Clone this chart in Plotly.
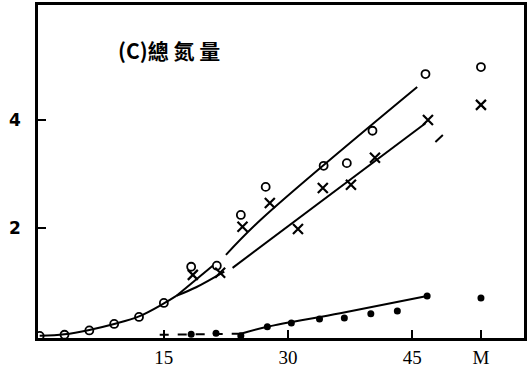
import plotly.graph_objects as go

# ---- data ----
M_POS = 53.3  # x position of the "M" category on the day axis

# open circles
o_days = [0, 3, 6, 9, 12, 15, 18.3, 21.4, 24.3, 27.3, 34.3, 37.1, 40.2, 46.6, M_POS]
o_vals = [0.0, 0.02, 0.10, 0.22, 0.35, 0.61, 1.28, 1.30, 2.24, 2.76, 3.15, 3.20, 3.80, 4.85, 4.98]

# crosses
x_days = [18.5, 21.8, 24.5, 27.8, 31.2, 34.2, 37.6, 40.5, 46.9, M_POS]
x_vals = [1.13, 1.17, 2.02, 2.46, 1.98, 2.74, 2.80, 3.30, 4.00, 4.28]

# filled dots
f_days = [18.3, 21.3, 24.3, 27.5, 30.4, 33.8, 36.8, 40.0, 43.2, 46.8, M_POS]
f_vals = [0.03, 0.05, 0.0, 0.17, 0.24, 0.31, 0.33, 0.41, 0.46, 0.74, 0.70]

# fitted curves
common_days = [0, 3, 6, 9, 12, 15, 16.5]
common_vals = [0.0, 0.03, 0.11, 0.22, 0.36, 0.60, 0.74]

upA_days = [16.5, 20.9]
upA_vals = [0.74, 1.30]
upB_days = [22.5, 26.7, 45.6]
upB_vals = [1.50, 2.15, 4.61]

loA_days = [16.5, 18.9, 22.3]
loA_vals = [0.74, 0.90, 1.19]
loB_days = [23.3, 46.6]
loB_vals = [1.26, 3.94]
loC_days = [47.8, 48.7]
loC_vals = [3.59, 3.72]

fd_days = [14.5, 24.3]
fd_vals = [0.02, 0.04]
fs_days = [24.3, 27.5, 36.3, 46.8]
fs_vals = [0.04, 0.17, 0.42, 0.74]

x_tick_vals = [15, 30, 45, M_POS]
x_tick_text = ["15", "30", "45", "M"]
y_tick_vals = [2, 4]
y_tick_text = ["2", "4"]

title_text = "(C)總 氮 量"

# ---- figure ----
fig = go.Figure()

def line(xs, ys, dash="solid", shape="spline", width=2):
    fig.add_trace(go.Scatter(x=xs, y=ys, mode="lines",
                             line=dict(color="black", width=width, dash=dash, shape=shape),
                             hoverinfo="skip", showlegend=False))

line(common_days, common_vals)
line(upA_days, upA_vals, shape="linear")
line(upB_days, upB_vals)
line(loA_days, loA_vals)
line(loB_days, loB_vals, shape="linear")
line(loC_days, loC_vals, shape="linear")
line(fd_days, fd_vals, dash="dash", shape="linear")
line(fs_days, fs_vals)

fig.add_trace(go.Scatter(x=o_days, y=o_vals, mode="markers",
                         marker=dict(symbol="circle-open", size=8, color="black",
                                     line=dict(width=1.8, color="black")),
                         showlegend=False))
fig.add_trace(go.Scatter(x=x_days, y=x_vals, mode="markers",
                         marker=dict(symbol="x-thin-open", size=10, color="black",
                                     line=dict(width=2.2, color="black")),
                         showlegend=False))
fig.add_trace(go.Scatter(x=f_days, y=f_vals, mode="markers",
                         marker=dict(symbol="circle", size=7, color="black"),
                         showlegend=False))

fig.add_annotation(text=title_text, xref="paper", yref="paper",
                   x=0.27, y=0.865, xanchor="center", yanchor="middle", showarrow=False,
                   font=dict(family="Noto Sans CJK TC", size=21, color="black", weight="bold"))

fig.update_xaxes(range=[-0.2, 58.5], tickvals=x_tick_vals, ticktext=x_tick_text,
                 ticks="inside", ticklen=8, tickwidth=1.5, tickcolor="black",
                 showline=True, linewidth=2.5, linecolor="black", mirror=True,
                 showgrid=False, zeroline=False, automargin=False,
                 tickfont=dict(family="Liberation Serif", size=19, color="black"))
fig.update_yaxes(range=[-0.04, 6.13], tickvals=y_tick_vals, ticktext=y_tick_text,
                 ticks="inside", ticklen=8, tickwidth=1.5, tickcolor="black",
                 showline=True, linewidth=2.5, linecolor="black", mirror=True,
                 showgrid=False, zeroline=False, ticklabelstandoff=11, automargin=False,
                 tickfont=dict(family="DejaVu Sans", size=17, color="black", weight="bold"))

fig.update_layout(width=529, height=376, margin=dict(l=38, r=5, t=5, b=38),
                  paper_bgcolor="white", plot_bgcolor="white")

fig.write_html("out.html", config={"displayModeBar": False},
               post_script="document.body.style.margin='0';document.body.style.padding='0';")
